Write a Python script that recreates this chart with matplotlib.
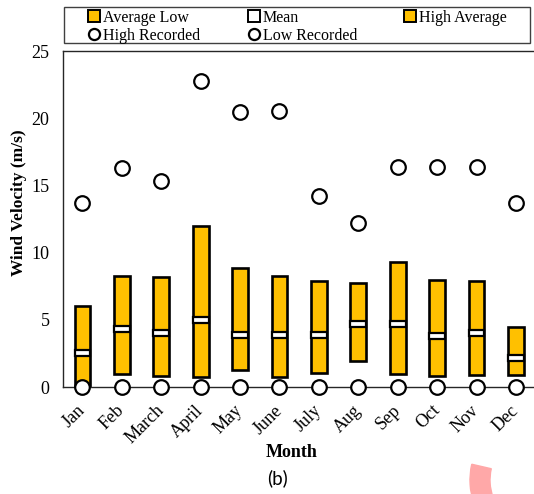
import matplotlib
matplotlib.use("Agg")
import matplotlib.pyplot as plt
from matplotlib.lines import Line2D
from matplotlib.patches import Rectangle, Wedge

months = ["Jan", "Feb", "March", "April", "May", "June",
          "July", "Aug", "Sep", "Oct", "Nov", "Dec"]
avg_low = [0.1, 1.0, 0.82, 0.72, 1.27, 0.77, 1.02, 1.96, 0.94, 0.82, 0.87, 0.87]
mean = [2.5, 4.3, 4.05, 5.0, 3.9, 3.9, 3.85, 4.7, 4.7, 3.8, 4.03, 2.19]
high_avg = [6.04, 8.28, 8.18, 11.96, 8.88, 8.28, 7.86, 7.74, 9.28, 7.98, 7.86, 4.45]
high_rec = [13.66, 16.3, 15.3, 22.76, 20.45, 20.5, 14.2, 12.2, 16.4, 16.4, 16.4, 13.66]
low_rec = [0, 0, 0, 0, 0, 0, 0, 0, 0, 0, 0, 0]

gold = "#FFC000"
serif = "Liberation Serif"

fig = plt.figure(figsize=(5.34, 4.94), dpi=100)
ax = fig.add_axes([62.7 / 534, 107 / 494, 473 / 534, 336 / 494])

x = list(range(len(months)))
heights = [h - l for h, l in zip(high_avg, avg_low)]
ax.bar(x, heights, bottom=avg_low, width=0.4, color=gold,
       edgecolor="black", linewidth=1.9, zorder=2)
ax.bar(x, [0.45] * len(x), bottom=[m - 0.225 for m in mean], width=0.4,
       color="white", edgecolor="black", linewidth=1.6, zorder=3)
ax.plot(x, high_rec, "o", ms=10.5, mfc="white", mec="black", mew=1.6,
        ls="none", zorder=4)
ax.plot(x, low_rec, "o", ms=10.5, mfc="white", mec="black", mew=1.6,
        ls="none", zorder=4, clip_on=False)

ax.set_xlim(-0.5, 11.5)
ax.set_ylim(0, 25)
ax.set_yticks([0, 5, 10, 15, 20, 25])
ax.set_xticks(x)
ax.set_xticklabels(months, rotation=45, ha="right", va="center",
                   rotation_mode="anchor", family=serif, fontsize=13)
for lab in ax.get_yticklabels():
    lab.set_family(serif)
    lab.set_fontsize(13)
ax.tick_params(axis="y", length=0, pad=9.5)
ax.tick_params(axis="x", length=0, pad=15)
for sp in ax.spines.values():
    sp.set_color("#262626")
    sp.set_linewidth(1.0)

fig.text(19 / 534, 1 - 203 / 494, "Wind Velocity (m/s)", rotation=90,
         ha="center", va="center", family=serif, fontweight="bold", fontsize=12.5)
fig.text(292 / 534, 1 - 452 / 494, "Month", ha="center", va="center",
         family=serif, fontweight="bold", fontsize=13)
fig.text(277 / 534, 1 - 478 / 494, "(b)", ha="center", va="center",
         family="Lato", fontsize=13.5)

# legend frame
fig.patches.append(Rectangle((64 / 534, 1 - 43 / 494), 466 / 534, 36 / 494,
                             transform=fig.transFigure, fill=False,
                             edgecolor="#404040", linewidth=1.0))
sq = dict(marker="s", ms=8, mec="black", mew=1.4, ls="none")
circ = dict(marker="o", ms=8, mfc="white", mec="black", mew=1.6, ls="none")
handles = [
    Line2D([], [], mfc=gold, **sq),
    Line2D([], [], **circ),
    Line2D([], [], mfc="white", **sq),
    Line2D([], [], **circ),
    Line2D([], [], mfc=gold, **sq),
]
labels = ["Average Low", "High Recorded", "Mean", "Low Recorded", "High Average"]
fig.legend(handles, labels, ncol=3, loc="upper left",
           bbox_to_anchor=(88 / 534, 1 - 9.5 / 494), frameon=False,
           borderpad=0, borderaxespad=0, handlelength=0.8, handletextpad=0.15,
           columnspacing=2.95, labelspacing=0.15,
           prop={"family": serif, "size": 11.5})

# pink mark in the lower right corner
fig.patches.append(Wedge((5.40, 0.14), 0.70, 167, 200, width=0.20,
                         transform=fig.dpi_scale_trans, color="#FFA8A8"))

fig.savefig("out.png", dpi=100)
